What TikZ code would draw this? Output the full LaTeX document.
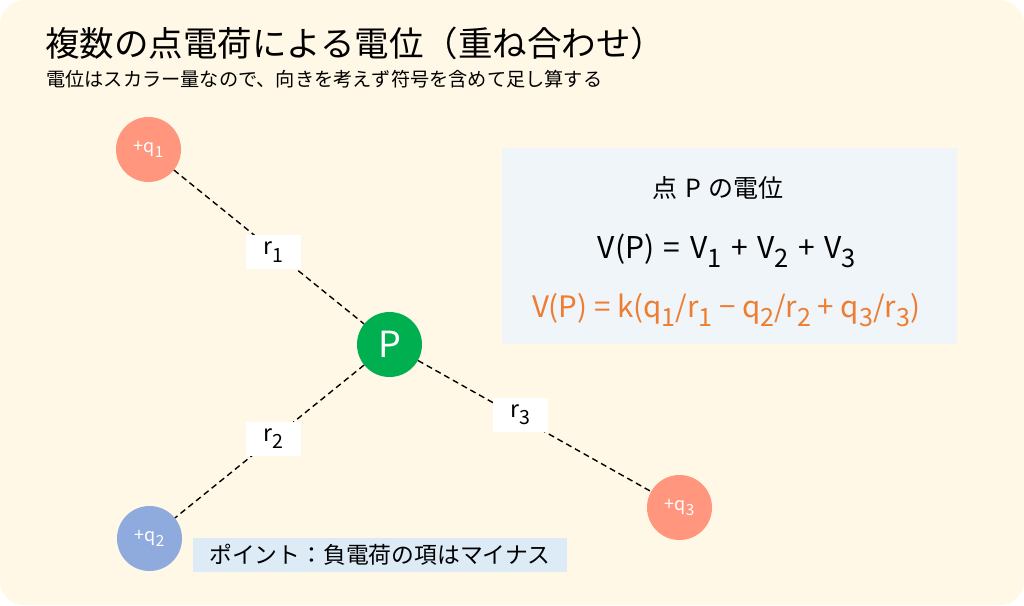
\documentclass[tikz,border=0pt]{standalone}
\usepackage{fontspec}
\usepackage{graphicx}
\setmainfont{Noto Sans CJK JP}
\usetikzlibrary{calc}
\definecolor{bgcol}{HTML}{FFF8E6}
\definecolor{boxcol}{HTML}{F0F5FA}
\definecolor{notecol}{HTML}{DDEBF7}
\definecolor{salmon}{HTML}{FF967D}
\definecolor{bluech}{HTML}{8FAADC}
\definecolor{greenp}{HTML}{00B050}
\definecolor{orangef}{HTML}{ED7D31}
\newcommand\lsub[1]{\raisebox{-0.32em}{\scalebox{0.85}{#1}}}
\newcommand\fsz[1]{\fontsize{#1}{#1}\selectfont}
\newcommand\wsp{\hspace{0.32em}}
\tikzset{
  charge/.style={circle, minimum size=65pt, inner sep=0pt, text=white, font=\fsz{18}},
  dashline/.style={draw=black, line width=1.4pt, dash pattern=on 6pt off 4pt},
  rlabel/.style={fill=white, minimum width=55pt, minimum height=34pt, inner sep=0pt, font=\fsz{23}},
}
\begin{document}
\begin{tikzpicture}[x=1pt,y=-1pt]
\useasboundingbox (0,0) rectangle (1024,605);
\fill[bgcol, rounded corners=24pt] (0,0) rectangle (1024,605);
% title
\node[anchor=west, inner sep=0pt, font=\fsz{34.5}] (title) at (45,43) {複数の点電荷による電位（重ね合わせ）};
\node[anchor=west, inner sep=0pt, font=\fsz{19.2}] (sub) at (46,79) {電位はスカラー量なので、向きを考えず符号を含めて足し算する};
% formula box
\fill[boxcol] (502,148) rectangle (957,344);
\node[font=\fsz{25}] (ftitle) at (718,188) {点\wsp P\wsp の電位};
\node[font=\fsz{30}] (f1) at (727,251) {V(P)\wsp=\wsp V\lsub{1}\wsp+\wsp V\lsub{2}\wsp+\wsp V\lsub{3}};
\node[font=\fsz{29.5}, text=orangef] (f2) at (726,310) {V(P) = k(q\lsub{1}/r\lsub{1} − q\lsub{2}/r\lsub{2} + q\lsub{3}/r\lsub{3})};
% charges
\node[charge, fill=salmon] (q1) at (148.5,149.5) {+q\lsub{1}};
\node[charge, fill=bluech] (q2) at (149.5,538.5) {+q\lsub{2}};
\node[charge, fill=salmon] (q3) at (679.5,507.5) {+q\lsub{3}};
\node[charge, fill=greenp, font=\fsz{36}] (P) at (389.5,344.5) {P};
% connectors
\draw[dashline] (q1) -- (P);
\draw[dashline] (P) -- (q2);
\draw[dashline] (P) -- (q3);
\node[rlabel] (r1) at (273.5,252) {r\lsub{1}};
\node[rlabel] (r2) at (273.5,438.5) {r\lsub{2}};
\node[rlabel] (r3) at (520.5,414.5) {r\lsub{3}};
% note
\node[fill=notecol, minimum width=374pt, minimum height=34pt, inner sep=0pt, font=\fsz{22.8}] (note) at (380,555) {ポイント：負電荷の項はマイナス};
\end{tikzpicture}
\end{document}
